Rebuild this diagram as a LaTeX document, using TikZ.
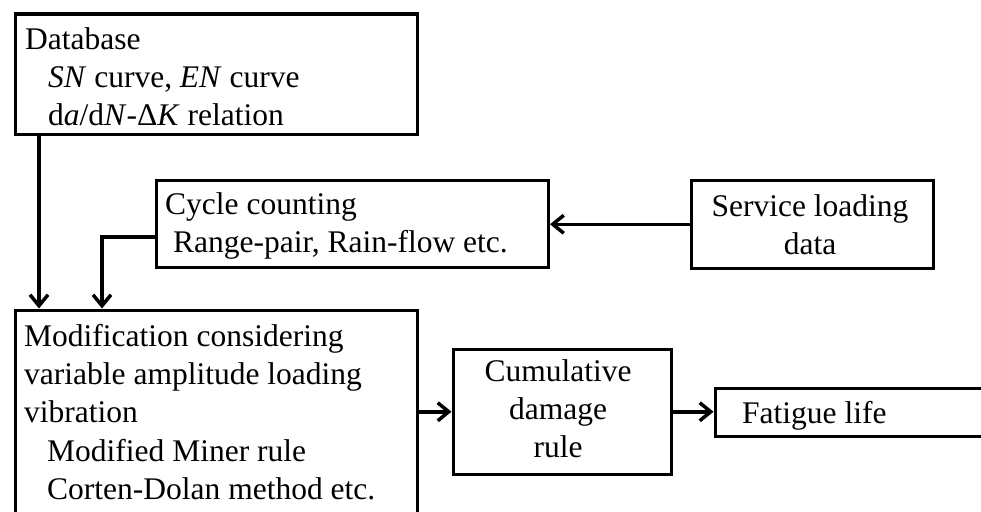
\documentclass[tikz,border=0pt]{standalone}
\usepackage{fontspec}
\setmainfont{Liberation Serif}
\usetikzlibrary{arrows.meta,calc}
\begin{document}
\begin{tikzpicture}[x=1pt,y=-1pt,
  box/.style={draw=black,line width=3.5pt,rectangle,inner sep=0pt,anchor=north west},
  txt/.style={inner sep=0pt,font=\fontsize{31.5}{38.3}\selectfont},
  arr/.style={line width=3.5pt,-{Straight Barb[length=11pt,width=18pt]}}]
\useasboundingbox (0,0) rectangle (981,511);
\clip (0,0) rectangle (981,511);
\fill[white] (0,0) rectangle (981,511);
% boxes
\node[box,minimum width=402pt,minimum height=120pt] (db) at (13.5,12.5) {};
\node[box,minimum width=392pt,minimum height=87pt] (cyc) at (154.5,178.5) {};
\node[box,minimum width=242pt,minimum height=88pt] (svc) at (689.5,178.5) {};
\node[box,minimum width=402pt,minimum height=240pt] (mod) at (13.5,308.5) {};
\node[box,minimum width=218pt,minimum height=125pt] (cum) at (451.5,347.5) {};
\node[box,minimum width=300pt,minimum height=48pt] (fat) at (713.5,386.5) {};
% texts
\node[txt,anchor=north west,align=left] (dbt) at (25,27)
  {Database\\\hspace*{23pt}\textit{SN} curve, \textit{EN} curve\\\hspace*{23pt}d\textit{a}/d\textit{N}-Δ\textit{K} relation};
\node[txt,anchor=north west,align=left] (cyct) at (165,192)
  {Cycle counting\\\hspace*{8pt}Range-pair, Rain-flow etc.};
\node[txt,anchor=north,align=center] (svct) at (810,194)
  {Service loading\\data};
\node[txt,anchor=north west,align=left] (modt) at (24,324)
  {Modification considering\\variable amplitude loading\\vibration\\\hspace*{23pt}Modified Miner rule\\\hspace*{23pt}Corten-Dolan method etc.};
\node[txt,anchor=north,align=center] (cumt) at (558,359)
  {Cumulative\\damage\\rule};
\node[txt,anchor=north west] (fatt) at (742,401) {Fatigue life};
% connectors
\draw[arr] ([xshift=25.5pt]db.south west) -- ([xshift=25.5pt]mod.north west);
\draw[arr] ([yshift=-13pt]cyc.west) -| ([xshift=88.5pt]mod.north west);
\draw[arr] (svc.west) -- (svc.west -| cyc.east);
\draw[arr] (mod.east |- cum.west) -- (cum.west);
\draw[arr] (cum.east) -- (cum.east -| fat.west);
\end{tikzpicture}
\end{document}
